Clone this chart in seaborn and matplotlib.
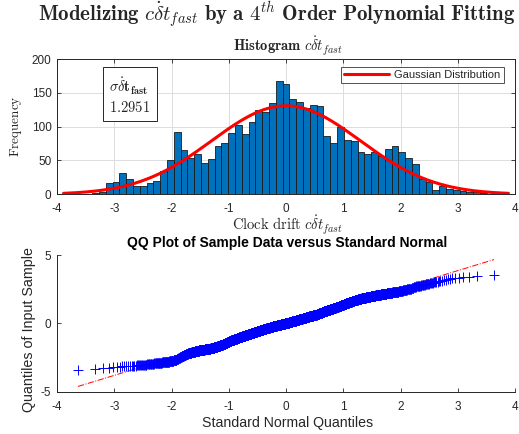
import numpy as np
import pandas as pd
import matplotlib
matplotlib.use("Agg")
import matplotlib.pyplot as plt
import seaborn as sns
from statistics import NormalDist

# ---------------- data ----------------
BIN_START = -3.503          # left edge of first histogram bin
BIN_WIDTH = 0.1188          # histogram bin width
COUNTS = [1, 2, 4, 17, 18, 32, 23, 12, 12, 16,
          20, 35, 50, 92, 65, 54, 59, 47, 52, 72,
          76, 90, 102, 89, 107, 124, 121, 135, 167, 163,
          141, 136, 128, 132, 130, 86, 76, 100, 81, 79,
          62, 59, 63, 57, 67, 71, 62, 54, 45, 22,
          18, 7, 13, 8, 7, 5, 3, 4, 2, 1]
MU = 0.0
SIGMA = 1.2951
SIGMA_TEXT = "1.2951"
HIST_XTICKS = [-4, -3, -2, -1, 0, 1, 2, 3, 4]
HIST_YTICKS = [0, 50, 100, 150, 200]
QQ_XTICKS = [-4, -3, -2, -1, 0, 1, 2, 3, 4]
QQ_YTICKS = [-5, 0, 5]

# ---------------- style ----------------
sns.set_theme(style="white")
plt.rcParams['font.family'] = ['Liberation Sans', 'DejaVu Sans']
plt.rcParams['mathtext.fontset'] = 'cm'
TICK_COL = '#262626'

W, H = 519, 434
fig = plt.figure(figsize=(W / 100, H / 100), dpi=100)
fig.patch.set_facecolor('white')


def fx(px):
    return px / W


def fy(py):
    return 1 - py / H


# ---------------- derived arrays ----------------
counts = np.array(COUNTS)
edges = BIN_START + BIN_WIDTH * np.arange(len(counts) + 1)
centers = edges[:-1] + BIN_WIDTH / 2
n_total = int(counts.sum())
hist_df = pd.DataFrame({'center': centers, 'count': counts})

# sample reconstructed from the histogram (spread within each bin)
sample = np.concatenate([edges[k] + (np.arange(c) + 0.5) / c * BIN_WIDTH
                         for k, c in enumerate(counts) if c > 0])
sample.sort()
nd = NormalDist()
n = len(sample)
theo = np.array([nd.inv_cdf((i - 0.5) / n) for i in range(1, n + 1)])

# ---------------- histogram panel ----------------
ax1 = fig.add_axes([fx(57), fy(194.3), fx(458), 135.3 / H])
sns.histplot(data=hist_df, x='center', weights='count', bins=edges.tolist(), ax=ax1,
             color='#0072BD', edgecolor='#1a1a1a', linewidth=0.6, alpha=1.0,
             zorder=2)
xs = np.linspace(MU - 3 * SIGMA, MU + 3 * SIGMA, 300)
pdf = n_total * BIN_WIDTH / (SIGMA * np.sqrt(2 * np.pi)) * np.exp(-0.5 * ((xs - MU) / SIGMA) ** 2)
sns.lineplot(x=xs, y=pdf, ax=ax1, color='#FF0000', linewidth=2.2,
             label='Gaussian Distribution', zorder=3)
ax1.set_xlim(-4, 4)
ax1.set_ylim(0, 200)
ax1.set_xticks(HIST_XTICKS)
ax1.set_yticks(HIST_YTICKS)
ax1.set_xticklabels([str(t) for t in HIST_XTICKS])
ax1.set_yticklabels([str(t) for t in HIST_YTICKS])
ax1.grid(True, color='#dcdcdc', linewidth=0.7, zorder=0)
ax1.set_axisbelow(True)
ax1.tick_params(direction='in', length=3, width=0.6, labelsize=8.5, colors=TICK_COL,
                pad=4, top=True, right=True, bottom=True, left=True)
ax1.tick_params(axis='x', pad=6)
for s in ax1.spines.values():
    s.set_visible(True)
    s.set_color(TICK_COL)
    s.set_linewidth(0.7)
ax1.set_xlabel('')
ax1.set_ylabel('')
leg = ax1.legend(loc='upper right', fontsize=8, handlelength=4.0, frameon=True,
                 fancybox=False, edgecolor=TICK_COL, borderpad=0.3,
                 bbox_to_anchor=(0.988, 0.985), handletextpad=0.5)
leg.get_frame().set_linewidth(0.7)

ax1.text(0.159, 0.734, r"$\sigma\dot{\delta}\mathbf{t_{fast}}$" + "\n" + r"$1.2951$",
         transform=ax1.transAxes, fontsize=10.5, va='center', ha='center',
         linespacing=1.25, multialignment='left',
         bbox=dict(boxstyle='square,pad=0.45', facecolor='white', edgecolor=TICK_COL,
                   linewidth=0.7))

fig.text(fx(277), fy(15),
         r"$\mathbf{Modelizing}\ c\dot{\delta}t_{fast}\ \mathbf{by\ a}\ 4^{th}\ \mathbf{Order\ Polynomial\ Fitting}$",
         ha='center', va='center', fontsize=15)
fig.text(fx(288), fy(46), r"$\mathbf{Histogram}\ c\dot{\delta}t_{fast}$",
         ha='center', va='center', fontsize=10.5)
fig.text(fx(288), fy(225), r"$\mathrm{Clock\ drift}\ c\dot{\delta}t_{fast}$",
         ha='center', va='center', fontsize=10.5, color=TICK_COL)
fig.text(fx(16), fy(126), r"$\mathrm{Frequency}$", rotation=90,
         ha='center', va='center', fontsize=9.5, color=TICK_COL)

# ---------------- QQ panel ----------------
ax2 = fig.add_axes([fx(57), fy(391.7), fx(458), 136.7 / H])
sns.scatterplot(x=theo, y=sample, ax=ax2, marker='+', color='#0000FF',
                s=45, linewidth=0.7, zorder=3)
q1, q3 = np.percentile(sample, [25, 75])
z1, z3 = nd.inv_cdf(0.25), nd.inv_cdf(0.75)
slope = (q3 - q1) / (z3 - z1)
icpt = q1 - slope * z1
lx = np.array([theo.min(), theo.max()])
sns.lineplot(x=lx, y=icpt + slope * lx, ax=ax2, color='#FF0000', linewidth=0.7,
             linestyle='-.', zorder=2)
ax2.set_xlim(-4, 4)
ax2.set_ylim(-5, 5)
ax2.set_xticks(QQ_XTICKS)
ax2.set_yticks(QQ_YTICKS)
ax2.set_xticklabels([str(t) for t in QQ_XTICKS])
ax2.set_yticklabels([str(t) for t in QQ_YTICKS])
ax2.tick_params(direction='in', length=3, width=0.6, labelsize=8.5, colors=TICK_COL,
                pad=4, bottom=True, left=True)
ax2.tick_params(axis='x', pad=7)
for side in ['top', 'right']:
    ax2.spines[side].set_visible(False)
for side in ['left', 'bottom']:
    ax2.spines[side].set_color(TICK_COL)
    ax2.spines[side].set_linewidth(0.7)
ax2.set_xlabel('')
ax2.set_ylabel('')

fig.text(fx(287), fy(243), 'QQ Plot of Sample Data versus Standard Normal',
         ha='center', va='center', fontsize=10, fontweight='bold', color='black')
fig.text(fx(288), fy(423), 'Standard Normal Quantiles',
         ha='center', va='center', fontsize=10.2, color=TICK_COL)
fig.text(fx(29), fy(330), 'Quantiles of Input Sample', rotation=90,
         ha='center', va='center', fontsize=10.3, color=TICK_COL)

fig.savefig('out.png', dpi=100, facecolor='white')
